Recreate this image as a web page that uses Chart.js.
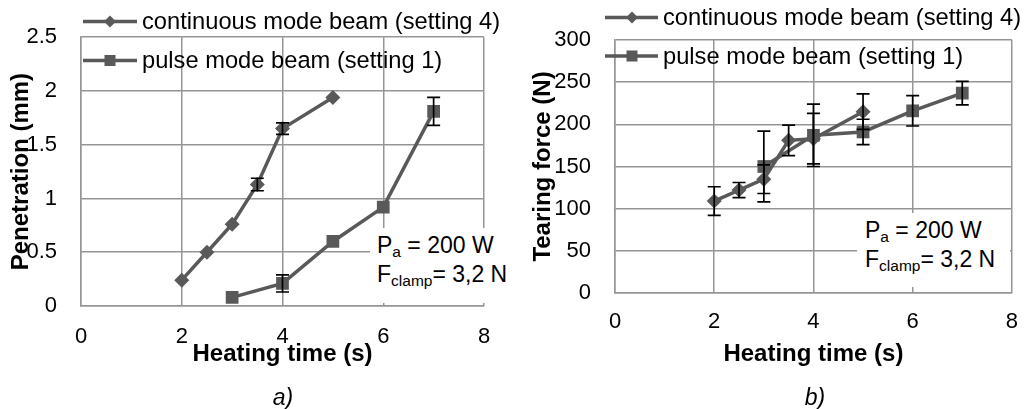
<!DOCTYPE html>
<html><head><meta charset="utf-8">
<script src="https://cdn.jsdelivr.net/npm/chart.js@4/dist/chart.umd.min.js"></script>
<style>
html,body{margin:0;padding:0;background:#fff;}
#wrap{position:relative;width:1034px;height:409px;overflow:hidden;font-family:"Liberation Sans",Arial,sans-serif;}
canvas{position:absolute;top:0;}
.note{position:absolute;background:#fff;font-size:23px;color:#000;line-height:27.5px;box-sizing:border-box;white-space:nowrap;}
.note sub{font-size:15.5px;vertical-align:baseline;position:relative;top:4px;}
.cap{position:absolute;font-style:italic;font-size:23px;line-height:26px;transform:translate(-50%,-50%);color:#000;}
</style></head>
<body><div id="wrap">
<canvas id="ca" width="517" height="409" style="left:0"></canvas>
<canvas id="cb" width="517" height="409" style="left:517px"></canvas>
<div class="note" style="left:370px;top:228px;width:142px;height:75px;padding:3.6px 0 0 7px">P<sub>a</sub> = 200 W<br>F<sub>clamp</sub>= 3,2 N</div>
<div class="note" style="left:857px;top:213px;width:153px;height:74px;padding:3.6px 0 0 8px;line-height:27px">P<sub>a</sub> = 200 W<br>F<sub>clamp</sub>= 3,2 N</div>
<div class="cap" style="left:283px;top:397px">a)</div>
<div class="cap" style="left:815px;top:397px">b)</div>
</div>
<script>
// ---------- data ----------
const seriesNames = ['continuous mode beam (setting 4)', 'pulse mode beam (setting 1)'];

// a) Penetration (mm) vs heating time (s)
const timeContA = [2, 2.5, 3, 3.5, 4, 5];
const penCont = [0.24, 0.50, 0.76, 1.13, 1.65, 1.94];
const penContErr = [0, 0, 0, 0.058, 0.053, 0];
const timePulseA = [3, 4, 5, 6, 7];
const penPulse = [0.08, 0.21, 0.60, 0.92, 1.81];
const penPulseErr = [0, 0.08, 0, 0, 0.13];

// b) Tearing force (N) vs heating time (s)
const timeContB = [2, 2.5, 3, 3.5, 4, 5];
const forceCont = [109, 122, 135, 181, 183, 215];
const forceContErr = [17, 9, 17, 18, 30, 21];
const timePulseB = [3, 4, 5, 6, 7];
const forcePulse = [150, 187, 191, 216, 237];
const forcePulseErr = [42, 37, 15, 18, 14];

// ticks
const xTickVals = [0, 2, 4, 6, 8];
const xTickLabels = ['0', '2', '4', '6', '8'];
const yTickValsA = [0, 0.5, 1, 1.5, 2, 2.5];
const yTickLabelsA = ['0', '0.5', '1', '1.5', '2', '2.5'];
const yTickValsB = [0, 50, 100, 150, 200, 250, 300];
const yTickLabelsB = ['0', '50', '100', '150', '200', '250', '300'];

// ---------- styles ----------
const FONT = '"Liberation Sans", Arial, sans-serif';
Chart.defaults.font.family = FONT;
const SERIES = '#595959';
const GRID = '#959595';

function pts(xs, ys) { return xs.map((x, i) => ({ x: x, y: ys[i] })); }

const errorBarPlugin = {
  id: 'errorBars',
  afterDatasetsDraw(chart) {
    const ctx = chart.ctx, xs = chart.scales.x, ys = chart.scales.y;
    ctx.save();
    ctx.strokeStyle = '#000';
    ctx.lineWidth = 1.7;
    chart.data.datasets.forEach(ds => {
      if (!ds.errorBars) return;
      ds.data.forEach((p, i) => {
        const e = ds.errorBars[i];
        if (!e) return;
        const px = xs.getPixelForValue(p.x);
        const t = ys.getPixelForValue(p.y + e);
        const b = ys.getPixelForValue(p.y - e);
        ctx.beginPath();
        ctx.moveTo(px, t); ctx.lineTo(px, b);
        ctx.moveTo(px - 6.5, t); ctx.lineTo(px + 6.5, t);
        ctx.moveTo(px - 6.5, b); ctx.lineTo(px + 6.5, b);
        ctx.stroke();
      });
    });
    ctx.restore();
  }
};

const legendPlugin = {
  id: 'fixedLegend',
  afterDraw(chart, args, o) {
    const ctx = chart.ctx;
    ctx.save();
    o.rows.forEach((r, i) => {
      ctx.strokeStyle = SERIES; ctx.lineWidth = 3.5;
      ctx.beginPath(); ctx.moveTo(o.x0, r.y); ctx.lineTo(o.x1, r.y); ctx.stroke();
      ctx.fillStyle = SERIES;
      ctx.beginPath();
      if (r.style === 'rectRot') {
        ctx.moveTo(o.xm - 6, r.y); ctx.lineTo(o.xm, r.y - 6);
        ctx.lineTo(o.xm + 6, r.y); ctx.lineTo(o.xm, r.y + 6);
      } else {
        ctx.rect(o.xm - 5.5, r.y - 5.5, 11, 11);
      }
      ctx.closePath(); ctx.fill();
      ctx.fillStyle = '#000';
      ctx.font = '23.7px ' + FONT;
      ctx.textBaseline = 'middle';
      ctx.textAlign = 'left';
      ctx.fillText(seriesNames[i], o.tx, r.y + 1);
    });
    ctx.restore();
  }
};

function makeChart(id, d) {
  return new Chart(document.getElementById(id), {
    type: 'line',
    data: {
      datasets: [
        { label: seriesNames[0], data: pts(d.xc, d.yc), errorBars: d.ec,
          borderColor: SERIES, backgroundColor: SERIES, borderWidth: 3.5,
          pointStyle: 'rectRot', pointRadius: 7.5, pointBorderWidth: 0,
          pointBackgroundColor: SERIES, tension: 0 },
        { label: seriesNames[1], data: pts(d.xp, d.yp), errorBars: d.ep,
          borderColor: SERIES, backgroundColor: SERIES, borderWidth: 3.5,
          pointStyle: 'rect', pointRadius: 9, pointBorderWidth: 0,
          pointBackgroundColor: SERIES, tension: 0 }
      ]
    },
    options: {
      responsive: false, animation: false, devicePixelRatio: 1,
      layout: { padding: d.pad },
      plugins: {
        legend: { display: false }, tooltip: { enabled: false },
        fixedLegend: d.legend
      },
      scales: {
        x: {
          type: 'linear', min: 0, max: 8,
          afterBuildTicks: s => { s.ticks = xTickVals.map(v => ({ value: v })); },
          afterFit: s => { s.height = d.xh; },
          grid: { color: GRID, lineWidth: 1.5, drawTicks: false },
          border: { color: GRID, width: 1.5 },
          ticks: { color: '#000', font: { size: 22 }, padding: d.xtp, maxRotation: 0, autoSkip: false,
                   callback: (v, i) => xTickLabels[i] },
          title: { display: true, text: 'Heating time (s)', color: '#000',
                   font: { size: 24, weight: 'bold' }, padding: { top: 0, bottom: 0 } }
        },
        y: {
          min: d.yv[0], max: d.yv[d.yv.length - 1],
          afterBuildTicks: s => { s.ticks = d.yv.map(v => ({ value: v })); },
          afterFit: s => { s.width = d.yw; },
          grid: { color: GRID, lineWidth: 1.5, drawTicks: false },
          border: { color: GRID, width: 1.5 },
          ticks: { color: '#000', font: { size: 22 }, padding: 24, autoSkip: false,
                   callback: (v, i) => d.yl[i] },
          title: { display: true, text: d.ytitle, color: '#000',
                   font: { size: 24, weight: 'bold' }, padding: { top: d.ytp, bottom: 0 } }
        }
      }
    },
    plugins: [errorBarPlugin, legendPlugin]
  });
}

makeChart('ca', {
  xc: timeContA, yc: penCont, ec: penContErr,
  xp: timePulseA, yp: penPulse, ep: penPulseErr,
  yv: yTickValsA, yl: yTickLabelsA, ytitle: 'Penetration (mm)',
  pad: { left: 0, top: 33, right: 33, bottom: 40.6 },
  xh: 62.4, yw: 81, xtp: 17.5, ytp: 6.5,
  legend: { x0: 83, x1: 137, xm: 110, tx: 142, rows: [{ y: 21.5, style: 'rectRot' }, { y: 60.5, style: 'rect' }] }
});

makeChart('cb', {
  xc: timeContB, yc: forceCont, ec: forceContErr,
  xp: timePulseB, yp: forcePulse, ep: forcePulseErr,
  yv: yTickValsB, yl: yTickLabelsB, ytitle: 'Tearing force (N)',
  pad: { left: 0, top: 40, right: 19, bottom: 40.6 },
  xh: 75.4, yw: 98, xtp: 16, ytp: 11.5,
  legend: { x0: 88, x1: 141, xm: 115, tx: 146, rows: [{ y: 17.5, style: 'rectRot' }, { y: 56, style: 'rect' }] }
});
</script>
</body></html>
